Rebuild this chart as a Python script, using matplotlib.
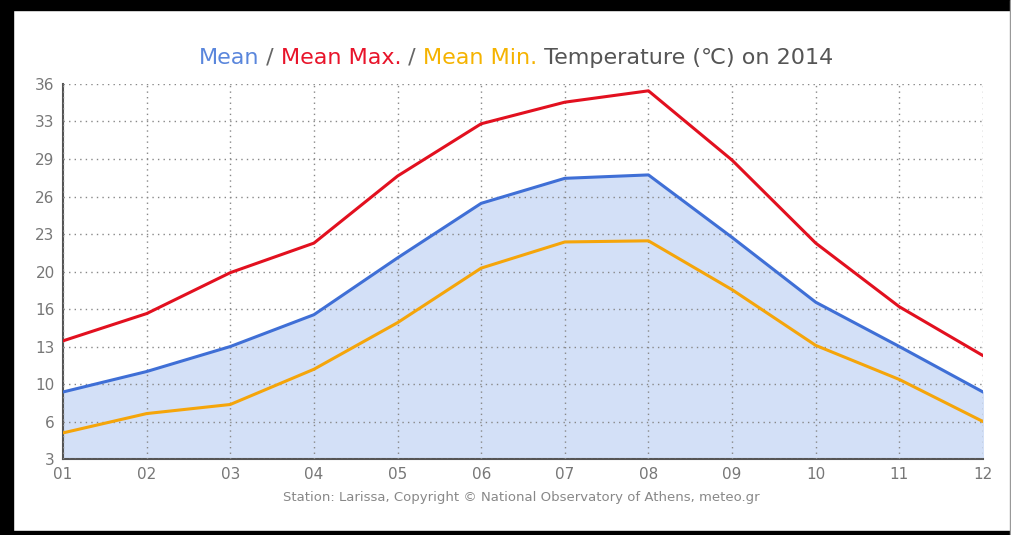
import matplotlib.pyplot as plt
import numpy as np
from matplotlib.patches import Rectangle

# Monthly temperatures, Larissa 2014
months = ["01", "02", "03", "04", "05", "06", "07", "08", "09", "10", "11", "12"]
mean_max = [13.4, 15.8, 19.4, 22.0, 27.9, 32.5, 34.4, 35.4, 29.3, 22.0, 16.4, 12.1]
mean = [8.9, 10.7, 12.9, 15.7, 20.7, 25.5, 27.7, 28.0, 22.5, 16.8, 12.9, 8.9]
mean_min = [5.3, 7.0, 7.8, 10.9, 15.0, 19.8, 22.1, 22.2, 17.9, 13.0, 10.0, 6.3]

y_ticks = np.linspace(3, 36, 11)
y_labels = [f"{v:.0f}" for v in np.floor(y_ticks + 0.5)]

fig = plt.figure(figsize=(10.12, 5.35), dpi=100)
ax = fig.add_axes([0.0623, 0.142, 0.909, 0.701])

x = np.arange(len(months))
ax.fill_between(x, 3, mean, color="#d3e0f7", zorder=1)
ax.plot(x, mean_max, color="#e2101f", linewidth=2.2, zorder=3)
ax.plot(x, mean, color="#3f6fd6", linewidth=2.2, zorder=3)
ax.plot(x, mean_min, color="#f5a50a", linewidth=2.2, zorder=3)

ax.set_xlim(0, 11)
ax.set_ylim(3, 36)
ax.set_xticks(x)
ax.set_xticklabels(months)
ax.set_yticks(y_ticks)
ax.set_yticklabels(y_labels)
ax.tick_params(length=0, labelsize=11, labelcolor="#777777", pad=6)
ax.grid(True, color="#888888", linestyle=(0, (1, 3)), linewidth=1.0, zorder=2)
ax.set_axisbelow(False)
for s in ["top", "right"]:
    ax.spines[s].set_visible(False)
for s in ["left", "bottom"]:
    ax.spines[s].set_color("#555555")
    ax.spines[s].set_linewidth(1.5)

# multi-colored title
parts = [("Mean", "#5a86dc"), (" / ", "#666666"), ("Mean Max.", "#e8142a"),
         (" / ", "#666666"), ("Mean Min.", "#f5b300"),
         (" Temperature (\u2103) on 2014", "#555555")]
fig.canvas.draw()
r = fig.canvas.get_renderer()
texts = []
for s, c in parts:
    t = fig.text(0, 0.892, s, color=c, fontsize=16, va="center", ha="left")
    texts.append(t)
widths = [t.get_window_extent(r).width for t in texts]
total = sum(widths)
xpos = 516 - total / 2
for t, w in zip(texts, widths):
    t.set_x(xpos / fig.bbox.width)
    xpos += w

fig.text(0.515, 0.071, "Station: Larissa, Copyright \u00a9 National Observatory of Athens, meteo.gr",
         ha="center", va="center", fontsize=9.5, color="#888888")

# black frame (left, top, bottom) around the picture
W, H = 1012.0, 535.0
for (x0, y0, w, h) in [(0, 0, 13, H), (0, H - 10, W, 10), (0, 0, W, 4)]:
    fig.patches.append(Rectangle((x0 / W, y0 / H), w / W, h / H, transform=fig.transFigure,
                                 color="black", zorder=10))
fig.patches.append(Rectangle(((W - 2) / W, 0), 2 / W, 1, transform=fig.transFigure,
                             color="#999999", zorder=10))

fig.savefig("out.png", dpi=100)
